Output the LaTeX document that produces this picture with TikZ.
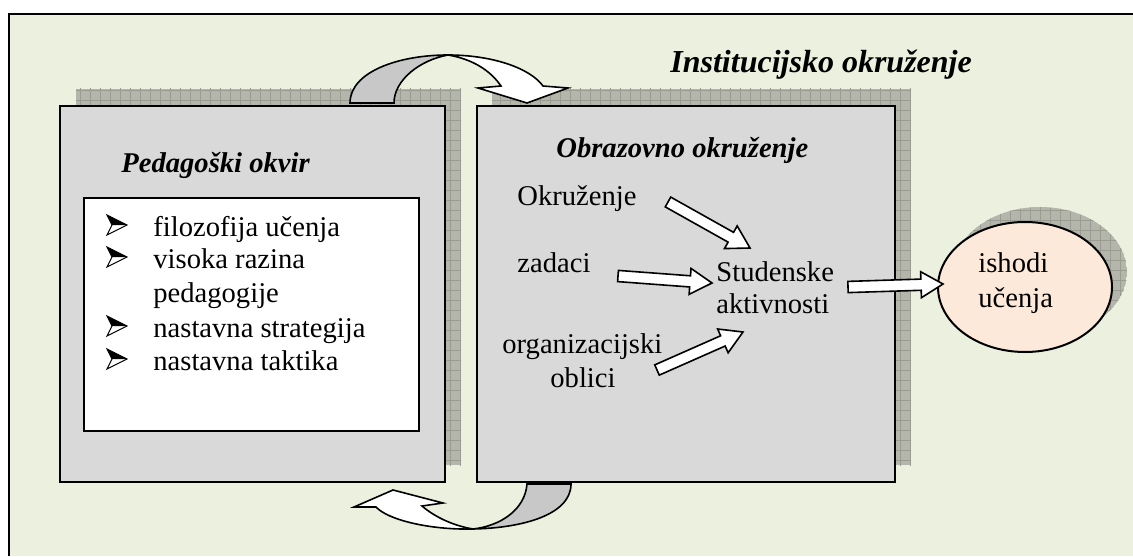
\documentclass[tikz,border=0pt]{standalone}
\usepackage{fontspec}
\setmainfont{Liberation Serif}
\usetikzlibrary{calc,shapes.geometric}

\definecolor{bgolive}{HTML}{EBF1DE}
\definecolor{boxgray}{HTML}{D9D9D9}
\definecolor{backgray}{HTML}{C8C8C8}
\definecolor{shadowgray}{HTML}{B4B6AB}
\definecolor{gridgray}{HTML}{9A9C92}
\definecolor{peach}{HTML}{FDE9D9}

\tikzset{
  panel/.style={draw=black, line width=1pt, fill=boxgray},
  txt/.style={anchor=base west, inner sep=0pt, font=\fontsize{14.3}{17}\selectfont},
  ttl/.style={anchor=base west, inner sep=0pt, font=\fontsize{14.3}{17}\selectfont\bfseries\itshape},
  arrowbullet/.pic={
    \fill[black] (0,-10) -- (20,0) -- (5,0) -- cycle;
    \draw[line width=0.5pt, line join=miter] (0,-10) -- (20,0) -- (0,10) -- (5,0) -- cycle;},
  blockarrow/.style={draw=black, fill=white, line width=0.8pt, line join=miter,
    to path={($(\tikztostart)!2.8pt!90:(\tikztotarget)$)
      -- ($(\tikztotarget)!11pt!(\tikztostart)!2.8pt!90:(\tikztotarget)$)
      -- ($(\tikztotarget)!11pt!(\tikztostart)!6.5pt!90:(\tikztotarget)$)
      -- (\tikztotarget)
      -- ($(\tikztotarget)!11pt!(\tikztostart)!6.5pt!-90:(\tikztotarget)$)
      -- ($(\tikztotarget)!11pt!(\tikztostart)!2.8pt!-90:(\tikztotarget)$)
      -- ($(\tikztostart)!2.8pt!-90:(\tikztotarget)$) -- cycle}},
  curvefront/.style={draw=black, fill=white, line width=0.8pt, line join=miter},
  curveback/.style={draw=black, fill=backgray, line width=0.8pt}
}

% checkered shadow behind a shape
\newcommand{\checkshadow}[1]{%
  \begin{scope}
    \clip #1;
    \fill[shadowgray] #1;
    \foreach \k in {0,10,...,1130} \draw[gridgray, line width=0.3pt] (\k,0) -- (\k,556);
    \foreach \k in {0,10,...,550} \draw[gridgray, line width=0.3pt] (0,\k) -- (1133,\k);
  \end{scope}}

\begin{document}
\begin{tikzpicture}[x=0.5pt, y=-0.5pt]
  \useasboundingbox (0,0) rectangle (1133,556);
  % outer frame
  \fill[bgolive] (9,14) rectangle (1133,556);
  \draw[line width=1.2pt] (9,556) -- (9,14) -- (1133,14);
  \node[anchor=base west, inner sep=0pt, font=\fontsize{16}{19}\selectfont\bfseries\itshape] (inst) at (670,73) {Institucijsko okruženje};

  % panels with shadows
  \checkshadow{(76,89) rectangle (461,465)}
  \checkshadow{(492,89) rectangle (911,465)}
  \draw[panel] (60,106) rectangle (445,482);
  \draw[panel] (477,106) rectangle (895,482);

  % pedagogical frame
  \node[ttl] (pedTitle) at (121,172) {Pedagoški okvir};
  \draw[fill=white, line width=1pt] (84,198) rectangle (419,431);
  \foreach \yb in {236,268,337,370} \pic at (107,\yb-11) {arrowbullet};
  \node[txt] (item1) at (153,236) {filozofija učenja};
  \node[txt] (item2) at (153,268) {visoka razina};
  \node[txt] (item2b) at (153,302) {pedagogije};
  \node[txt] (item3) at (153,337) {nastavna strategija};
  \node[txt] (item4) at (153,370) {nastavna taktika};

  % educational environment
  \node[ttl] (eduTitle) at (556,157) {Obrazovno okruženje};
  \node[txt] (okr) at (517,205) {Okruženje};
  \node[txt] (zad) at (517,272) {zadaci};
  \node[txt] (stud) at (716,281) {Studenske};
  \node[txt] (akt) at (716,313) {aktivnosti};
  \node[txt] (org) at (502,353) {organizacijski};
  \node[txt] (obl) at (550,387) {oblici};

  % learning outcomes
  \checkshadow{(1040,272) ellipse [x radius=87, y radius=65]}
  \node[ellipse, draw=black, line width=1pt, fill=peach, minimum width=87pt, minimum height=65pt, inner sep=0pt] (outcome) at (1025,287) {};
  \node[txt] (ish) at (978,272) {ishodi};
  \node[txt] (uce) at (978,307) {učenja};

  % block arrows
  \coordinate (okrTail) at (668,202);
  \coordinate (okrTip) at (750,248);
  \coordinate (zadTail) at (618,276);
  \coordinate (zadTip) at (712,283);
  \coordinate (orgTail) at (657,370);
  \coordinate (orgTip) at (743,332);
  \coordinate (studTail) at (848,287);
  \coordinate (outTip) at (943,284);
  \draw[blockarrow] (okrTail) to (okrTip);
  \draw[blockarrow] (zadTail) to (zadTip);
  \draw[blockarrow] (orgTail) to (orgTip);
  \draw[blockarrow] (studTail) to (outTip);

  % curved arrow over the top
  \draw[curveback] (350,103) .. controls (350,72) and (398,55) .. (448,55)
    .. controls (420,60) and (394,80) .. (394,103) -- cycle;
  \draw[curvefront] (448,55) .. controls (492,55) and (530,68) .. (543,86)
    -- (568,88) -- (527,103) -- (478,88) -- (501,86)
    .. controls (490,70) and (472,59) .. (448,55) -- cycle;
  % curved arrow below
  \draw[curvefront] (473,529) .. controls (430,530) and (388,520) .. (376,507)
    -- (354,507) -- (393,490) -- (443,503) -- (422,506)
    .. controls (436,518) and (455,526) .. (473,529) -- cycle;
  \draw[curveback] (527,484) .. controls (525,510) and (500,526) .. (473,529)
    .. controls (522,528) and (571,515) .. (571,484) -- cycle;
\end{tikzpicture}
\end{document}
